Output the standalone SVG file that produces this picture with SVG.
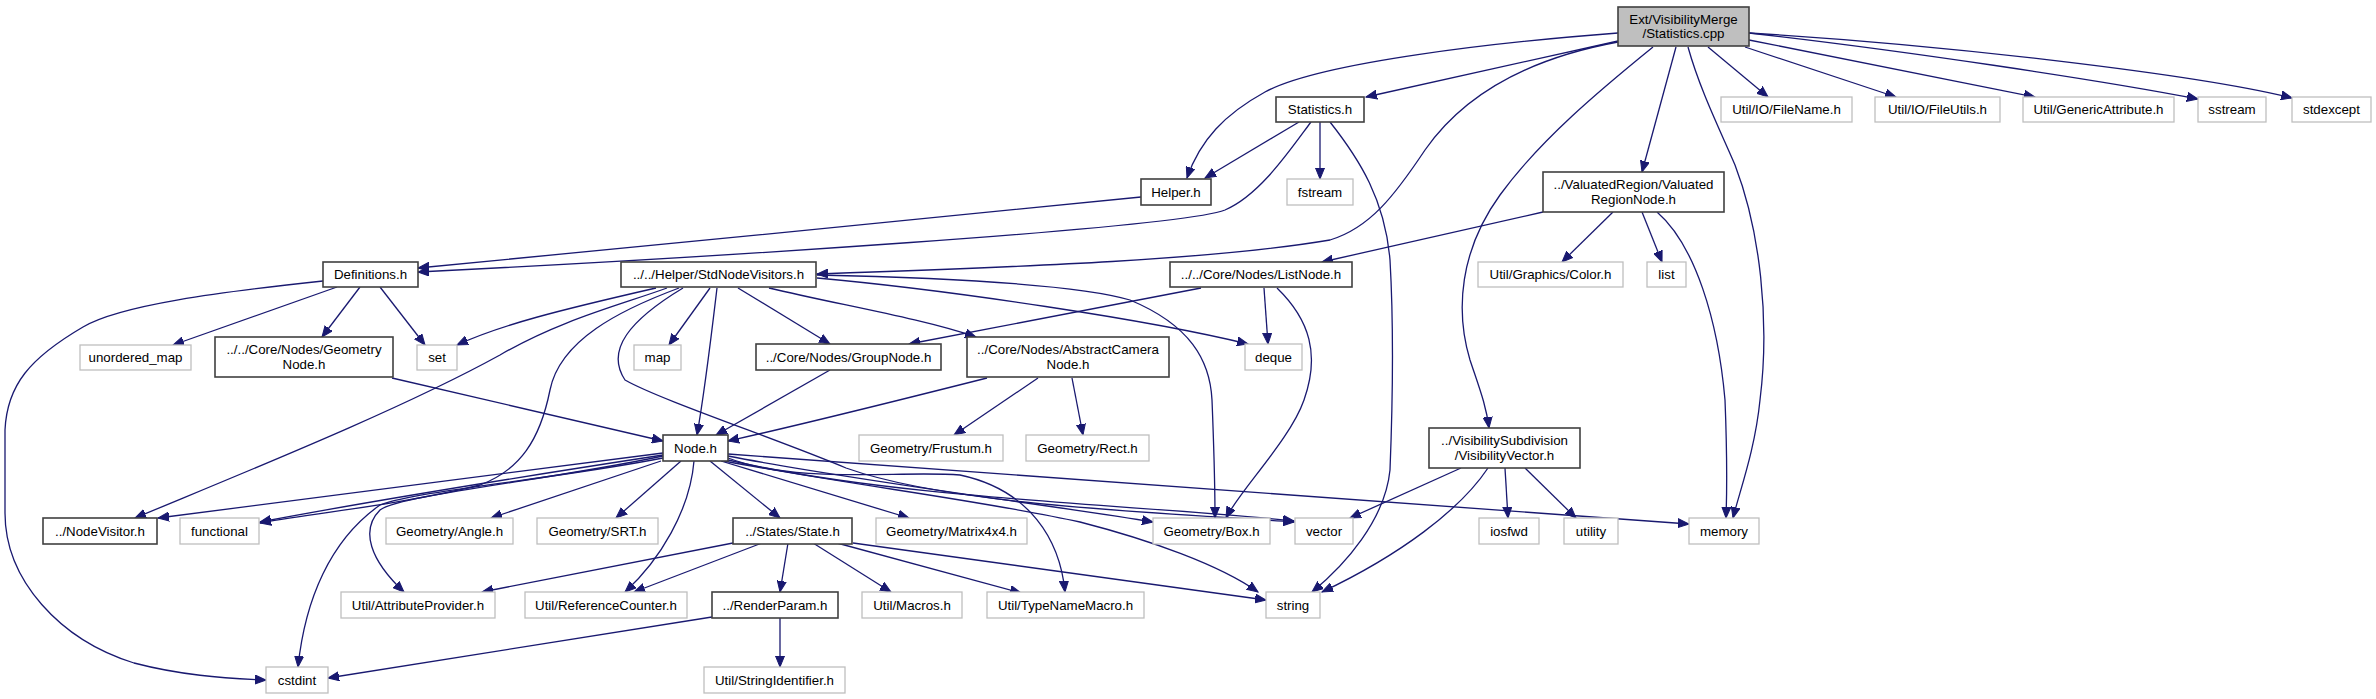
<svg xmlns="http://www.w3.org/2000/svg" width="2376" height="699" viewBox="0 0 2376 699">
<defs>
<marker id="ah" markerUnits="userSpaceOnUse" markerWidth="12" markerHeight="10" refX="11" refY="5" orient="auto">
<path d="M0,0.5 L11,5 L0,9.5 Z" fill="#191970" stroke="#191970" stroke-width="1"/>
</marker>
<style>
.bg{fill:#ffffff}
.b rect{fill:#ffffff;stroke:#404040;stroke-width:1.6}
.g rect{fill:#ffffff;stroke:#bfbfbf;stroke-width:1.3}
.m rect{fill:#bfbfbf;stroke:#404040;stroke-width:1.6}
text{font-family:"Liberation Sans",Arial,Helvetica,sans-serif;font-size:13.3px;fill:#000;text-anchor:middle}
#edges path{fill:none;stroke:#191970;stroke-width:1.3;marker-end:url(#ah)}
</style>
</defs>
<rect class="bg" x="0" y="0" width="2376" height="699"/>
<g id="edges">
<path d="M1618,41 L1366,97"/>
<path d="M1618,33 C1500,42 1320,62 1265,92 C1225,114 1200,140 1187,178"/>
<path d="M1618,42 C1520,60 1460,100 1425,150 C1395,195 1370,228 1330,240 C1200,262 980,268 817,274"/>
<path d="M1676,47 L1642,172"/>
<path d="M1653,47 C1600,90 1540,140 1500,195 C1460,250 1455,310 1470,360 C1480,390 1486,405 1489,428"/>
<path d="M1688,47 C1700,90 1720,130 1735,165 C1760,230 1770,320 1760,400 C1755,450 1740,490 1733,518"/>
<path d="M1708,47 L1768,97"/>
<path d="M1745,47 L1896,97"/>
<path d="M1749,40 L2035,97"/>
<path d="M1749,33 C1900,50 2100,80 2198,99"/>
<path d="M1749,33 C1950,45 2200,75 2292,98"/>
<path d="M1299,122 L1205,178"/>
<path d="M1311,122 C1290,150 1260,195 1225,210 C1180,228 700,258 418,272"/>
<path d="M1320,122 L1320,179"/>
<path d="M1330,122 C1360,160 1385,200 1390,260 C1394,330 1392,420 1390,470 C1385,520 1345,565 1312,592"/>
<path d="M1141,197 C1000,212 600,250 418,268"/>
<path d="M1543,212 L1322,262"/>
<path d="M1613,212 L1562,262"/>
<path d="M1642,212 L1662,262"/>
<path d="M1657,212 C1695,245 1718,320 1725,400 C1727,450 1727,490 1726,518"/>
<path d="M323,281 C220,292 120,305 83,327 C30,358 7,385 5,430 L5,513 C5,580 60,640 134,663 C180,675 220,678 266,680"/>
<path d="M337,287 L173,345"/>
<path d="M360,287 L322,337"/>
<path d="M380,287 L425,345"/>
<path d="M392,378 L663,441"/>
<path d="M656,288 C560,310 500,325 457,345"/>
<path d="M667,288 C620,305 560,320 500,355 C400,410 250,470 135,518"/>
<path d="M679,288 C620,310 560,340 550,390 C540,440 520,470 480,485 C400,505 300,515 260,523"/>
<path d="M683,288 C630,320 605,350 625,380 C660,400 780,440 846,468 C950,505 1150,512 1294,522"/>
<path d="M710,288 L669,345"/>
<path d="M717,288 C712,330 705,390 697,435"/>
<path d="M738,288 L830,344"/>
<path d="M769,288 C840,305 920,318 976,337"/>
<path d="M817,278 C950,290 1150,320 1248,344"/>
<path d="M817,275 C950,278 1080,285 1130,300 C1190,325 1210,360 1212,400 C1214,450 1215,490 1215,518"/>
<path d="M1201,288 L909,344"/>
<path d="M1264,288 L1268,344"/>
<path d="M1277,288 C1310,320 1320,355 1304,400 C1290,440 1240,490 1226,518"/>
<path d="M830,370 L716,435"/>
<path d="M987,378 C900,400 800,425 728,441"/>
<path d="M1038,378 L954,435"/>
<path d="M1072,378 L1083,435"/>
<path d="M663,453 L158,518"/>
<path d="M663,455 C500,480 350,505 260,522"/>
<path d="M663,456 C550,480 400,495 380,510 C360,530 370,560 404,592"/>
<path d="M663,458 C550,480 420,490 380,505 C330,540 305,600 298,667"/>
<path d="M661,461 L491,518"/>
<path d="M681,461 L616,518"/>
<path d="M694,461 C690,510 660,560 625,592"/>
<path d="M710,461 L780,518"/>
<path d="M721,461 L909,518"/>
<path d="M728,456 C850,480 1050,505 1153,522"/>
<path d="M728,460 C900,500 1150,505 1294,521"/>
<path d="M724,461 C850,485 980,500 1080,522 C1150,540 1220,565 1258,592"/>
<path d="M728,458 C800,485 900,470 960,475 C1030,490 1060,540 1065,592"/>
<path d="M728,454 L1689,524"/>
<path d="M733,543 L482,592"/>
<path d="M762,543 L634,592"/>
<path d="M788,543 L780,592"/>
<path d="M813,543 L891,592"/>
<path d="M837,543 L1021,593"/>
<path d="M853,543 L1266,600"/>
<path d="M780,618 L780,667"/>
<path d="M712,617 L328,678"/>
<path d="M1461,468 L1350,518"/>
<path d="M1488,468 C1460,510 1400,555 1322,592"/>
<path d="M1505,468 L1508,518"/>
<path d="M1525,468 L1576,518"/>
</g>
<g id="main" class="m"><rect x="1618" y="7" width="131" height="39"/><text x="1683.5" y="23.8">Ext/VisibilityMerge</text><text x="1683.5" y="38.1">/Statistics.cpp</text></g>
<g id="statistics_h" class="b"><rect x="1276" y="97" width="88" height="25"/><text x="1320" y="114.2">Statistics.h</text></g>
<g id="filename_h" class="g"><rect x="1721" y="97" width="131" height="25"/><text x="1786.5" y="114.2">Util/IO/FileName.h</text></g>
<g id="fileutils_h" class="g"><rect x="1875" y="97" width="125" height="25"/><text x="1937.5" y="114.2">Util/IO/FileUtils.h</text></g>
<g id="genericattribute_h" class="g"><rect x="2023" y="97" width="151" height="25"/><text x="2098.5" y="114.2">Util/GenericAttribute.h</text></g>
<g id="sstream" class="g"><rect x="2198" y="97" width="68" height="25"/><text x="2232" y="114.2">sstream</text></g>
<g id="stdexcept" class="g"><rect x="2292" y="97" width="79" height="25"/><text x="2331.5" y="114.2">stdexcept</text></g>
<g id="helper_h" class="b"><rect x="1141" y="179" width="70" height="26"/><text x="1176" y="196.7">Helper.h</text></g>
<g id="fstream" class="g"><rect x="1287" y="179" width="66" height="26"/><text x="1320" y="196.7">fstream</text></g>
<g id="valuatedregionnode_h" class="b"><rect x="1543" y="172" width="181" height="40"/><text x="1633.5" y="189.3">../ValuatedRegion/Valuated</text><text x="1633.5" y="203.6">RegionNode.h</text></g>
<g id="definitions_h" class="b"><rect x="323" y="262" width="95" height="25"/><text x="370.5" y="279.2">Definitions.h</text></g>
<g id="stdnodevisitors_h" class="b"><rect x="621" y="262" width="195" height="25"/><text x="718.5" y="279.2">../../Helper/StdNodeVisitors.h</text></g>
<g id="listnode_h" class="b"><rect x="1170" y="262" width="182" height="25"/><text x="1261" y="279.2">../../Core/Nodes/ListNode.h</text></g>
<g id="color_h" class="g"><rect x="1478" y="262" width="145" height="25"/><text x="1550.5" y="279.2">Util/Graphics/Color.h</text></g>
<g id="list" class="g"><rect x="1647" y="262" width="39" height="25"/><text x="1666.5" y="279.2">list</text></g>
<g id="unordered_map" class="g"><rect x="80" y="345" width="111" height="25"/><text x="135.5" y="362.2">unordered_map</text></g>
<g id="geometrynode_h" class="b"><rect x="215" y="337" width="178" height="40"/><text x="304" y="354.3">../../Core/Nodes/Geometry</text><text x="304" y="368.6">Node.h</text></g>
<g id="set" class="g"><rect x="417" y="345" width="40" height="25"/><text x="437" y="362.2">set</text></g>
<g id="map" class="g"><rect x="634" y="345" width="47" height="25"/><text x="657.5" y="362.2">map</text></g>
<g id="groupnode_h" class="b"><rect x="756" y="344" width="185" height="26"/><text x="848.5" y="361.7">../Core/Nodes/GroupNode.h</text></g>
<g id="abstractcameranode_h" class="b"><rect x="967" y="337" width="202" height="40"/><text x="1068" y="354.3">../Core/Nodes/AbstractCamera</text><text x="1068" y="368.6">Node.h</text></g>
<g id="deque" class="g"><rect x="1245" y="344" width="57" height="26"/><text x="1273.5" y="361.7">deque</text></g>
<g id="node_h" class="b"><rect x="663" y="435" width="65" height="26"/><text x="695.5" y="452.7">Node.h</text></g>
<g id="frustum_h" class="g"><rect x="859" y="435" width="144" height="26"/><text x="931" y="452.7">Geometry/Frustum.h</text></g>
<g id="rect_h" class="g"><rect x="1026" y="435" width="123" height="26"/><text x="1087.5" y="452.7">Geometry/Rect.h</text></g>
<g id="visibilityvector_h" class="b"><rect x="1429" y="428" width="151" height="40"/><text x="1504.5" y="445.3">../VisibilitySubdivision</text><text x="1504.5" y="459.6">/VisibilityVector.h</text></g>
<g id="nodevisitor_h" class="b"><rect x="43" y="518" width="114" height="26"/><text x="100" y="535.7">../NodeVisitor.h</text></g>
<g id="functional" class="g"><rect x="180" y="518" width="79" height="26"/><text x="219.5" y="535.7">functional</text></g>
<g id="angle_h" class="g"><rect x="386" y="518" width="127" height="26"/><text x="449.5" y="535.7">Geometry/Angle.h</text></g>
<g id="srt_h" class="g"><rect x="537" y="518" width="121" height="26"/><text x="597.5" y="535.7">Geometry/SRT.h</text></g>
<g id="state_h" class="b"><rect x="733" y="518" width="119" height="26"/><text x="792.5" y="535.7">../States/State.h</text></g>
<g id="matrix4x4_h" class="g"><rect x="876" y="518" width="151" height="26"/><text x="951.5" y="535.7">Geometry/Matrix4x4.h</text></g>
<g id="box_h" class="g"><rect x="1153" y="518" width="117" height="26"/><text x="1211.5" y="535.7">Geometry/Box.h</text></g>
<g id="vector" class="g"><rect x="1295" y="518" width="58" height="26"/><text x="1324" y="535.7">vector</text></g>
<g id="iosfwd" class="g"><rect x="1479" y="518" width="60" height="26"/><text x="1509" y="535.7">iosfwd</text></g>
<g id="utility" class="g"><rect x="1564" y="518" width="54" height="26"/><text x="1591" y="535.7">utility</text></g>
<g id="memory" class="g"><rect x="1689" y="518" width="70" height="26"/><text x="1724" y="535.7">memory</text></g>
<g id="attributeprovider_h" class="g"><rect x="341" y="592" width="154" height="26"/><text x="418" y="609.7">Util/AttributeProvider.h</text></g>
<g id="referencecounter_h" class="g"><rect x="525" y="592" width="162" height="26"/><text x="606" y="609.7">Util/ReferenceCounter.h</text></g>
<g id="renderparam_h" class="b"><rect x="712" y="592" width="126" height="26"/><text x="775" y="609.7">../RenderParam.h</text></g>
<g id="macros_h" class="g"><rect x="862" y="592" width="100" height="26"/><text x="912" y="609.7">Util/Macros.h</text></g>
<g id="typenamemacro_h" class="g"><rect x="987" y="592" width="157" height="26"/><text x="1065.5" y="609.7">Util/TypeNameMacro.h</text></g>
<g id="string" class="g"><rect x="1266" y="592" width="54" height="26"/><text x="1293" y="609.7">string</text></g>
<g id="cstdint" class="g"><rect x="266" y="667" width="62" height="26"/><text x="297" y="684.7">cstdint</text></g>
<g id="stringidentifier_h" class="g"><rect x="704" y="667" width="141" height="26"/><text x="774.5" y="684.7">Util/StringIdentifier.h</text></g>
</svg>
